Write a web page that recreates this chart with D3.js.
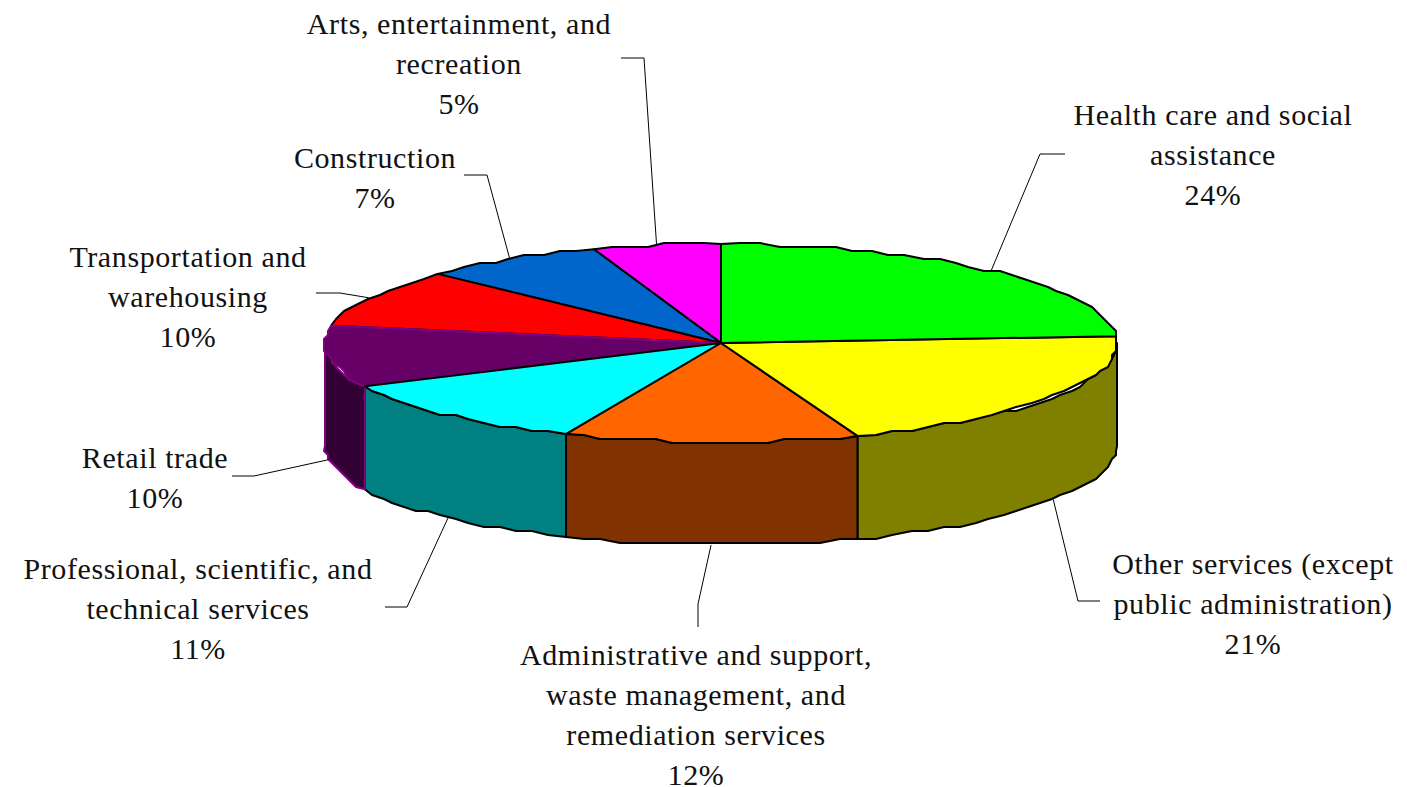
<!DOCTYPE html>
<html lang="en">

<head>
	<meta charset="utf-8">
	<title>Pie chart</title>
	<style>
        html, body {
            margin: 0;
            background: #fff;
        }
        svg {
            display: block;
        }
        text {
            font: 30px "Liberation Serif", serif;
            fill: #111;
            text-anchor: middle;
            letter-spacing: 0.6px;
        }
	</style>
	<script src="https://cdn.jsdelivr.net/npm/d3@7"></script>
</head>

<body>
    <svg width="1407" height="787"></svg>

	<script type="text/javascript">
        const categories = [
            "Health care and social assistance",
            "Other services (except public administration)",
            "Administrative and support, waste management, and remediation services",
            "Professional, scientific, and technical services",
            "Retail trade",
            "Transportation and warehousing",
            "Construction",
            "Arts, entertainment, and recreation"
        ];
        const values = [23.9, 20.5, 12.0, 11.4, 10.0, 9.5, 7.5, 5.2];
        const percentLabels = ["24%", "21%", "12%", "11%", "10%", "10%", "7%", "5%"];
        const labelLines = [
            ["Health care and social", "assistance"],
            ["Other services (except", "public administration)"],
            ["Administrative and support,", "waste management, and", "remediation services"],
            ["Professional, scientific, and", "technical services"],
            ["Retail trade"],
            ["Transportation and", "warehousing"],
            ["Construction"],
            ["Arts, entertainment, and", "recreation"]
        ];
        const topColors = ["#00ff00", "#ffff00", "#ff6600", "#00ffff", "#660066", "#ff0000", "#0066cc", "#ff00ff"];
        const sideColors = ["#008000", "#808000", "#803300", "#008080", "#330033", "#800000", "#003366", "#800080"];
        const strokeColors = ["#000", "#000", "#000", "#000", "#800080", "#000", "#000", "#000"];

        // label centre x, first baseline y, elbow x, elbow y, end x of the leader
        const labelLayout = [
            { x: 1213, y: 125, elbowX: 1040, elbowY: 154, endX: 1065 },
            { x: 1253, y: 574, elbowX: 1078, elbowY: 601, endX: 1100 },
            { x: 696, y: 665, elbowX: 698, elbowY: 604, endX: 698, endY: 627 },
            { x: 198, y: 579, elbowX: 407, elbowY: 607, endX: 385 },
            { x: 155, y: 468, elbowX: 254, elbowY: 476, endX: 232 },
            { x: 188, y: 267, elbowX: 340, elbowY: 293, endX: 316 },
            { x: 375, y: 168, elbowX: 487, elbowY: 175, endX: 464 },
            { x: 459, y: 34, elbowX: 644, elbowY: 58, endX: 621 }
        ];

        const cx = 721,
            cy = 343,
            rx = 396,
            ry = 99,
            depth = 103,
            lineHeight = 40,
            grid = 4;

        let svg = d3.select("svg");

        let x = d3.scaleLinear().domain([-1, 1]).range([cx - rx, cx + rx]);
        let y = d3.scaleLinear().domain([-1, 1]).range([cy - ry, cy + ry]);

        let pie = d3.pie().sort(null).value(d => d);
        let arcs = pie(values);

        // the rim is faceted, the original was drawn on a coarse grid
        function snap(v) {
            return Math.round(v / grid) * grid;
        }

        function rim(angle, drop) {
            return [x(Math.sin(angle)), y(-Math.cos(angle)) + (drop || 0)];
        }

        function rimPoints(a0, a1, drop) {
            let n = Math.max(2, Math.ceil((a1 - a0) / 0.05));
            let pts = d3.range(n + 1).map(i => {
                let p = rim(a0 + (a1 - a0) * i / n, drop);
                return (i == 0 || i == n) ? p : [snap(p[0]), snap(p[1] - cy) + cy];
            });
            return pts;
        }

        let line = d3.line();
        const QUARTER = Math.PI / 2;

        // side walls, only the front half shows
        let walls = svg.append("g");
        arcs.forEach((d, i) => {
            let a0 = Math.max(d.startAngle, QUARTER),
                a1 = Math.min(d.endAngle, 3 * QUARTER);
            if (a1 <= a0) return;
            let pts = rimPoints(a0, a1, 0).concat(rimPoints(a0, a1, depth).reverse());
            walls.append("path")
                .attr("d", line(pts) + "Z")
                .attr("fill", sideColors[i])
                .attr("stroke", strokeColors[i])
                .attr("stroke-width", 2)
                .attr("stroke-linejoin", "round");
        });

        // top faces, back slices first so the front ones own the shared edges
        let tops = svg.append("g");
        d3.range(arcs.length).reverse().forEach(i => {
            let d = arcs[i];
            let pts = [[cx, cy]].concat(rimPoints(d.startAngle, d.endAngle, 0));
            tops.append("path")
                .attr("d", line(pts) + "Z")
                .attr("fill", topColors[i])
                .attr("stroke", strokeColors[i])
                .attr("stroke-width", 2)
                .attr("stroke-linejoin", "round");
        });

        // retail wall's neighbour edges are black, redraw them over the purple
        let leaders = svg.append("g");
        arcs.forEach((d, i) => {
            let mid = (d.startAngle + d.endAngle) / 2,
                l = labelLayout[i],
                front = Math.cos(mid) < 0;
            let start = rim(mid, front ? depth : 0);
            let end = [l.endX, l.endY === undefined ? l.elbowY : l.endY];
            leaders.append("path")
                .attr("d", line([start, [l.elbowX, l.elbowY], end]))
                .attr("fill", "none")
                .attr("stroke", "#000")
                .attr("stroke-width", 1);
        });

        let labels = svg.append("g");
        labelLines.forEach((lines, i) => {
            let l = labelLayout[i];
            let t = labels.append("text").attr("y", l.y);
            lines.concat(percentLabels[i]).forEach((s, j) => {
                t.append("tspan")
                    .attr("x", l.x)
                    .attr("y", l.y + j * lineHeight)
                    .text(s);
            });
        });
    </script>
</body>

</html>
